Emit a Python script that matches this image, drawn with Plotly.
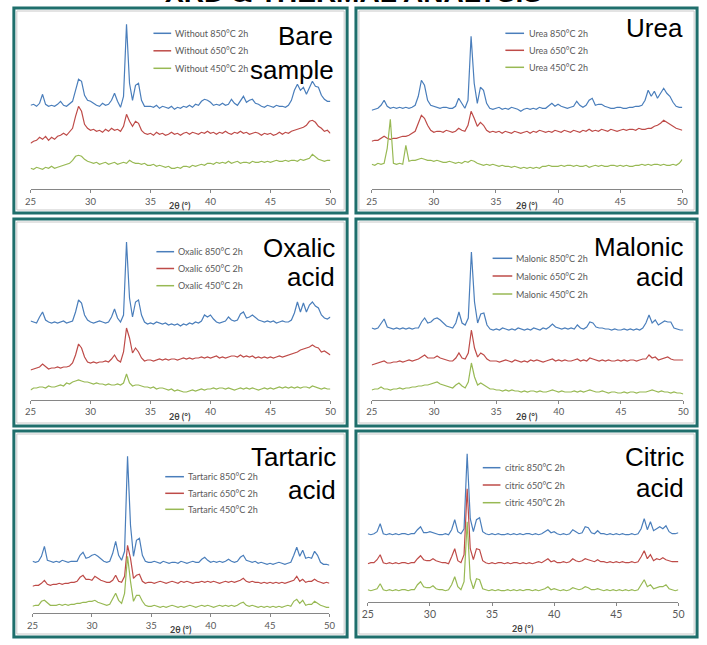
import plotly.graph_objects as go

# ---------------- DATA ----------------
two_theta = [round(25 + 0.25 * i, 2) for i in range(101)]  # scan grid 25..50 deg
tick_values = [25, 30, 35, 40, 45, 50]
tick_labels = ["25", "30", "35", "40", "45", "50"]

sample_names = ["Without", "Urea", "Oxalic", "Malonic", "Tartaric", "citric"]
panel_titles = [["Bare", "sample"], ["Urea"], ["Oxalic", "acid"],
                ["Malonic", "acid"], ["Tartaric", "acid"], ["Citric", "acid"]]
temperatures = ["850°C 2h", "650°C 2h", "450°C 2h"]
x_title = "2θ (°)"
page_title = "XRD & THERMAL ANALYSIS"

# Bare sample (Without)
without_850 = [84, 85, 83, 86, 95, 85, 83, 84, 83, 85, 88, 84, 83, 86, 88, 99,
               110, 108, 94, 89, 88, 86, 84, 83, 86, 84, 85, 89, 96, 88, 82, 93,
               165, 106, 89, 104, 106, 89, 83, 83, 83, 82, 84, 81, 83, 82, 81, 83,
               80, 82, 81, 83, 82, 84, 82, 85, 84, 88, 90, 89, 87, 84, 85, 84,
               86, 84, 85, 90, 86, 84, 89, 93, 87, 89, 90, 86, 85, 83, 82, 84,
               83, 82, 84, 83, 83, 82, 84, 89, 99, 105, 99, 102, 95, 101, 108, 103,
               102, 94, 90, 88, 88]
without_650 = [46, 48, 49, 52, 50, 53, 49, 52, 50, 53, 54, 56, 54, 57, 61, 73,
               83, 78, 65, 61, 59, 60, 58, 59, 57, 60, 58, 61, 59, 60, 58, 63,
               75, 68, 63, 68, 66, 59, 56, 55, 56, 54, 57, 55, 56, 54, 55, 57,
               55, 56, 54, 56, 57, 55, 57, 56, 55, 57, 56, 58, 56, 57, 55, 57,
               56, 58, 56, 55, 57, 56, 58, 56, 57, 55, 56, 57, 56, 54, 56, 55,
               56, 54, 55, 57, 55, 57, 56, 58, 59, 60, 61, 62, 64, 68, 69, 67,
               63, 61, 58, 59, 56]
without_450 = [21, 20, 22, 21, 20, 22, 21, 23, 21, 22, 23, 24, 25, 26, 29, 33,
               34, 33, 30, 28, 27, 26, 27, 25, 26, 27, 25, 26, 27, 25, 26, 27,
               26, 29, 27, 26, 26, 25, 26, 24, 24, 25, 23, 24, 23, 22, 23, 21,
               21, 22, 21, 23, 23, 22, 24, 23, 24, 25, 24, 26, 26, 25, 27, 26,
               27, 26, 28, 26, 27, 28, 26, 27, 27, 26, 28, 27, 27, 28, 27, 28,
               27, 28, 29, 28, 28, 29, 28, 29, 29, 28, 30, 29, 30, 31, 35, 32,
               30, 29, 28, 29, 29]

# Urea
urea_850 = [79, 80, 81, 84, 89, 83, 81, 82, 81, 82, 81, 82, 81, 82, 84, 93,
            109, 104, 89, 84, 83, 82, 81, 82, 82, 81, 81, 83, 91, 86, 81, 89,
            153, 106, 86, 102, 99, 86, 81, 80, 81, 82, 80, 81, 80, 82, 81, 80,
            78, 80, 81, 80, 81, 80, 82, 81, 81, 84, 86, 83, 85, 83, 82, 81,
            82, 83, 88, 84, 82, 84, 89, 91, 84, 85, 85, 83, 82, 81, 81, 82,
            82, 81, 81, 82, 82, 83, 83, 84, 89, 99, 93, 98, 91, 96, 101, 96,
            93, 87, 83, 82, 82]
urea_650 = [48, 49, 49, 51, 53, 51, 50, 51, 51, 52, 53, 53, 54, 56, 58, 66,
            74, 71, 64, 59, 57, 58, 58, 57, 59, 58, 57, 58, 61, 59, 58, 64,
            78, 71, 63, 67, 64, 59, 57, 58, 57, 58, 56, 58, 57, 56, 58, 57,
            56, 57, 58, 56, 58, 57, 59, 58, 57, 58, 57, 59, 58, 57, 59, 58,
            57, 59, 58, 57, 59, 58, 60, 58, 59, 58, 60, 59, 58, 60, 59, 58,
            59, 60, 59, 60, 60, 59, 61, 60, 60, 61, 61, 63, 64, 66, 69, 67,
            65, 63, 61, 60, 59]
urea_450 = [25, 24, 26, 25, 26, 41, 70, 26, 25, 26, 25, 44, 28, 29, 29, 30,
            31, 30, 29, 29, 28, 29, 28, 27, 27, 28, 27, 26, 27, 26, 28, 27,
            29, 28, 26, 25, 24, 25, 24, 25, 24, 23, 24, 23, 23, 22, 23, 22,
            21, 22, 21, 22, 21, 22, 21, 23, 23, 24, 23, 23, 23, 24, 23, 24,
            24, 23, 24, 23, 23, 24, 22, 23, 24, 23, 24, 23, 23, 24, 24, 23,
            24, 23, 24, 23, 23, 24, 24, 25, 24, 25, 24, 25, 25, 24, 25, 24,
            24, 25, 24, 26, 30]

# Oxalic acid
oxalic_850 = [79, 78, 77, 83, 88, 80, 78, 77, 78, 77, 78, 79, 77, 78, 79, 88,
              100, 97, 85, 80, 78, 77, 78, 79, 78, 77, 78, 83, 91, 82, 78, 85,
              158, 102, 83, 98, 100, 85, 78, 76, 77, 76, 78, 77, 76, 77, 75, 76,
              75, 76, 74, 76, 75, 77, 76, 78, 77, 79, 85, 83, 85, 81, 78, 77,
              78, 79, 83, 80, 79, 80, 86, 88, 82, 83, 85, 82, 80, 79, 78, 79,
              78, 79, 77, 78, 79, 78, 78, 80, 87, 98, 88, 97, 88, 95, 98, 94,
              92, 85, 82, 81, 83]
oxalic_650 = [30, 31, 32, 33, 36, 33, 31, 32, 32, 33, 32, 33, 33, 34, 37, 45,
              56, 52, 43, 38, 37, 38, 37, 38, 38, 39, 38, 41, 45, 40, 38, 48,
              72, 62, 47, 52, 48, 42, 39, 40, 40, 39, 40, 41, 40, 41, 40, 41,
              41, 40, 41, 42, 41, 42, 41, 42, 42, 43, 42, 43, 42, 43, 44, 42,
              43, 42, 43, 44, 44, 43, 45, 43, 44, 43, 44, 42, 43, 42, 43, 42,
              43, 42, 43, 44, 43, 44, 45, 46, 47, 48, 50, 51, 52, 53, 55, 53,
              52, 48, 49, 47, 45]
oxalic_450 = [10, 12, 12, 13, 13, 12, 14, 13, 13, 14, 15, 14, 17, 16, 18, 19,
              20, 19, 18, 18, 17, 16, 17, 16, 16, 15, 16, 15, 15, 16, 15, 17,
              26, 17, 14, 15, 15, 14, 13, 13, 12, 13, 11, 12, 12, 11, 10, 11,
              9, 10, 9, 8, 8, 9, 10, 9, 10, 11, 10, 11, 11, 12, 11, 12,
              12, 11, 12, 11, 10, 11, 12, 11, 12, 11, 12, 11, 10, 11, 12, 11,
              12, 11, 12, 13, 12, 13, 12, 13, 12, 13, 12, 13, 13, 12, 14, 13,
              12, 11, 12, 11, 11]

# Malonic acid
malonic_850 = [72, 71, 72, 77, 81, 73, 72, 71, 72, 71, 72, 71, 72, 71, 72, 72,
               78, 82, 77, 78, 81, 82, 80, 77, 74, 73, 72, 77, 88, 77, 75, 82,
               148, 98, 77, 86, 87, 75, 71, 70, 71, 70, 72, 71, 70, 71, 70, 72,
               71, 70, 71, 70, 72, 71, 70, 72, 71, 73, 76, 73, 72, 71, 72, 71,
               72, 71, 75, 72, 71, 73, 78, 77, 73, 72, 72, 71, 71, 70, 71, 70,
               70, 71, 70, 71, 70, 71, 70, 72, 77, 85, 77, 80, 75, 77, 79, 78,
               78, 72, 71, 70, 70]
malonic_650 = [35, 36, 37, 38, 39, 37, 37, 38, 38, 39, 38, 39, 40, 39, 40, 41,
               43, 45, 42, 42, 42, 44, 42, 41, 40, 39, 39, 42, 47, 42, 41, 47,
               70, 52, 43, 47, 45, 41, 39, 39, 39, 38, 39, 40, 39, 38, 40, 39,
               38, 39, 38, 40, 39, 40, 39, 38, 39, 40, 41, 39, 40, 39, 40, 39,
               39, 40, 41, 39, 40, 39, 42, 41, 40, 39, 40, 39, 40, 39, 39, 40,
               39, 40, 39, 40, 40, 39, 40, 41, 41, 45, 42, 43, 40, 41, 42, 43,
               41, 40, 40, 40, 40]
malonic_450 = [10, 11, 11, 13, 11, 11, 10, 11, 11, 12, 11, 12, 12, 13, 13, 14,
               14, 15, 15, 16, 17, 18, 16, 15, 14, 13, 12, 15, 17, 14, 12, 18,
               37, 23, 15, 17, 15, 13, 11, 11, 10, 10, 9, 10, 9, 10, 9, 9,
               8, 9, 8, 9, 9, 8, 9, 8, 8, 9, 10, 9, 8, 9, 8, 8,
               8, 9, 8, 9, 8, 9, 10, 9, 8, 8, 9, 8, 7, 8, 8, 7,
               7, 8, 7, 8, 8, 7, 8, 8, 8, 9, 10, 9, 8, 9, 8, 8,
               7, 8, 7, 7, 6]

# Tartaric acid
tartaric_850 = [52, 51, 52, 57, 67, 53, 52, 51, 52, 51, 53, 52, 51, 52, 52, 52,
                58, 61, 55, 56, 58, 59, 57, 54, 52, 51, 52, 60, 72, 58, 53, 62,
                157, 88, 57, 73, 75, 58, 52, 51, 51, 52, 51, 50, 52, 51, 50, 51,
                51, 50, 52, 51, 50, 51, 52, 51, 51, 54, 56, 53, 51, 52, 51, 52,
                51, 52, 54, 52, 51, 52, 56, 58, 53, 52, 51, 52, 50, 51, 50, 49,
                50, 49, 50, 51, 50, 49, 50, 51, 58, 66, 57, 63, 55, 56, 55, 62,
                58, 51, 49, 49, 48]
tartaric_650 = [27, 28, 28, 30, 33, 29, 28, 29, 29, 30, 29, 30, 30, 31, 31, 32,
                36, 38, 34, 34, 33, 37, 35, 33, 32, 31, 31, 33, 38, 32, 31, 37,
                68, 55, 35, 38, 39, 32, 30, 31, 31, 30, 31, 32, 31, 30, 31, 32,
                31, 30, 32, 31, 32, 31, 30, 31, 31, 32, 31, 32, 31, 32, 31, 30,
                31, 32, 31, 32, 31, 32, 33, 35, 32, 31, 32, 31, 31, 30, 31, 30,
                31, 30, 31, 30, 31, 30, 31, 32, 33, 37, 32, 34, 31, 32, 32, 34,
                32, 31, 30, 31, 30]
tartaric_450 = [7, 8, 8, 12, 13, 10, 8, 8, 8, 9, 8, 9, 8, 9, 9, 10,
                10, 11, 11, 12, 12, 13, 11, 10, 9, 8, 9, 15, 20, 13, 10, 20,
                57, 32, 12, 18, 18, 12, 8, 7, 7, 8, 7, 6, 7, 6, 7, 8,
                7, 6, 7, 6, 7, 8, 7, 6, 7, 8, 7, 8, 7, 6, 7, 8,
                7, 8, 7, 8, 7, 8, 10, 11, 8, 7, 8, 7, 6, 7, 6, 7,
                6, 7, 6, 7, 6, 7, 8, 7, 12, 14, 10, 13, 8, 9, 9, 12,
                10, 8, 7, 6, 6]

# Citric acid
citric_850 = [68, 67, 68, 70, 78, 68, 67, 68, 67, 68, 67, 68, 68, 67, 68, 68,
              72, 75, 69, 69, 70, 69, 68, 67, 67, 68, 67, 72, 82, 70, 68, 73,
              148, 83, 70, 82, 84, 70, 68, 67, 68, 67, 68, 67, 67, 68, 67, 68,
              67, 68, 67, 68, 68, 67, 68, 67, 68, 70, 72, 69, 70, 68, 67, 68,
              67, 68, 72, 70, 68, 69, 75, 74, 69, 68, 71, 68, 68, 67, 68, 67,
              68, 67, 68, 67, 67, 68, 67, 68, 73, 83, 72, 80, 71, 73, 75, 73,
              76, 70, 68, 68, 69]
citric_650 = [38, 39, 39, 42, 47, 39, 38, 39, 38, 39, 38, 39, 39, 38, 39, 39,
              43, 46, 42, 41, 41, 43, 41, 40, 39, 39, 38, 45, 53, 41, 39, 47,
              113, 53, 42, 53, 52, 41, 39, 38, 39, 38, 39, 39, 38, 39, 38, 39,
              39, 38, 39, 38, 39, 38, 39, 40, 39, 41, 43, 40, 41, 39, 39, 40,
              39, 40, 43, 41, 40, 41, 43, 42, 41, 40, 42, 40, 40, 39, 40, 39,
              40, 39, 40, 39, 39, 40, 39, 40, 45, 51, 43, 47, 41, 43, 42, 44,
              42, 41, 40, 40, 40]
citric_450 = [12, 11, 12, 13, 18, 12, 11, 12, 11, 12, 11, 12, 12, 11, 12, 12,
              17, 20, 15, 14, 14, 16, 13, 12, 12, 11, 12, 17, 25, 15, 12, 20,
              80, 23, 13, 23, 22, 13, 12, 11, 12, 11, 12, 11, 11, 12, 11, 12,
              11, 12, 11, 12, 12, 11, 12, 11, 12, 13, 15, 12, 13, 12, 11, 12,
              11, 12, 14, 13, 12, 13, 15, 14, 12, 12, 13, 12, 11, 12, 11, 12,
              11, 12, 11, 12, 11, 12, 11, 12, 17, 22, 15, 17, 13, 14, 15, 15,
              17, 13, 12, 11, 12]

series_by_panel = [
    (without_850, without_650, without_450),
    (urea_850, urea_650, urea_450),
    (oxalic_850, oxalic_650, oxalic_450),
    (malonic_850, malonic_650, malonic_450),
    (tartaric_850, tartaric_650, tartaric_450),
    (citric_850, citric_650, citric_450),
]

# ---------------- STYLE / GEOMETRY ----------------
W, H = 707, 645
colors = ["#4A7EBB", "#BE4B48", "#98B954"]
Y_SPAN = 175  # visible height (px) above the axis line

def fx(px):
    return px / W

def fy(py):
    return 1 - py / H

geom = [
    dict(x0=25, x1=330, ay=189.3, box=(8, 8, 347, 213),
         leg=(150, 168, 170, [33.3, 50.8, 68.3]),
         lab=[(335, 46.7), (336, 80)], tfs=9.5, ty=205.5),
    dict(x0=372, x1=688, ay=189.3, box=(356, 8, 703, 213),
         leg=(508, 527, 530, [33.3, 50.3, 67.3]),
         lab=[(691, 38.3)], tfs=9.5, ty=205.5),
    dict(x0=25, x1=330, ay=400, box=(8, 219, 347, 426),
         leg=(153, 171, 173, [251.7, 268.5, 285.7]),
         lab=[(337, 258.3), (337, 287)], tfs=9.5, ty=416.7),
    dict(x0=372, x1=689, ay=400, box=(356, 219, 703, 426),
         leg=(495, 515, 517, [258.3, 276, 294]),
         lab=[(692, 257), (692, 287)], tfs=9.5, ty=416.7),
    dict(x0=27, x1=329, ay=613.3, box=(8, 431, 347, 637),
         leg=(162, 181, 183, [476.7, 493.3, 509.3]),
         lab=[(338, 467.7), (338, 500)], tfs=9.5, ty=629),
    dict(x0=368, x1=684, ay=601.7, box=(356, 431, 703, 637),
         leg=(485, 503, 506, [467.7, 485, 502.7]),
         lab=[(692, 467.3), (692, 498.3)], tfs=10.5, ty=628),
]

fig = go.Figure()
shapes = []
annotations = []
layout_axes = {}

for p, g in enumerate(geom):
    n = p + 1
    xa = "x" if n == 1 else f"x{n}"
    ya = "y" if n == 1 else f"y{n}"
    for s, vals in enumerate(series_by_panel[p]):
        fig.add_trace(go.Scatter(
            x=two_theta, y=vals, mode="lines", xaxis=xa, yaxis=ya,
            line=dict(color=colors[s], width=1.2),
            name=f"{sample_names[p]} {temperatures[s]}", showlegend=False,
            hoverinfo="skip"))
    layout_axes["xaxis" if n == 1 else f"xaxis{n}"] = dict(
        domain=[fx(g["x0"]), fx(g["x1"])], range=[25, 50], anchor=ya,
        tickvals=tick_values, ticktext=tick_labels, showgrid=False,
        zeroline=False, showline=True, linecolor="#868686", linewidth=1,
        ticks="outside", ticklen=3, tickcolor="#868686",
        tickfont=dict(family="Lato", size=g["tfs"], color="#595959"))
    layout_axes["yaxis" if n == 1 else f"yaxis{n}"] = dict(
        domain=[fy(g["ay"]), fy(g["ay"] - Y_SPAN)], range=[0, Y_SPAN],
        anchor=xa, visible=False, showgrid=False, zeroline=False)

    l, t, r, b = g["box"]
    shapes.append(dict(type="rect", xref="paper", yref="paper",
                       x0=fx(l), x1=fx(r), y0=fy(b), y1=fy(t),
                       line=dict(color="#1F6F6C", width=3), layer="below"))
    shapes.append(dict(type="rect", xref="paper", yref="paper",
                       x0=fx(l + 3), x1=fx(r - 3), y0=fy(b - 3), y1=fy(t + 3),
                       line=dict(color="#C8C8C8", width=1), layer="below"))

    lx0, lx1, tx, rows = g["leg"]
    for s in range(3):
        shapes.append(dict(type="line", xref="paper", yref="paper",
                           x0=fx(lx0), x1=fx(lx1), y0=fy(rows[s]), y1=fy(rows[s]),
                           line=dict(color=colors[s], width=1.5)))
        annotations.append(dict(
            text=f"{sample_names[p]} {temperatures[s]}", xref="paper", yref="paper",
            x=fx(tx), y=fy(rows[s]), xanchor="left", yanchor="middle",
            showarrow=False, font=dict(family="Lato", size=9, color="#595959")))

    for k, (rx, base) in enumerate(g["lab"]):
        annotations.append(dict(
            text=panel_titles[p][k], xref="paper", yref="paper",
            x=fx(rx), y=fy(base + 6.5), xanchor="right", yanchor="bottom",
            showarrow=False,
            font=dict(family="Liberation Sans, Arial", size=26, color="#000000")))

    annotations.append(dict(
        text=f"<b>{x_title}</b>", xref=f"{xa} domain", yref="paper",
        x=0.5, y=fy(g["ty"]), xanchor="center", yanchor="middle",
        showarrow=False, font=dict(family="Lato", size=9, color="#404040")))

# page title, mostly above the visible area as in the source image
annotations.append(dict(
    text=f"<b>{page_title}</b>", xref="paper", yref="paper",
    x=fx(353), y=fy(10), xanchor="center", yanchor="bottom", showarrow=False,
    font=dict(family="Liberation Sans, Arial", size=28, color="#000000")))

fig.update_layout(
    width=W, height=H, margin=dict(l=0, r=0, t=0, b=0),
    paper_bgcolor="white", plot_bgcolor="rgba(0,0,0,0)",
    showlegend=False, shapes=shapes, annotations=annotations, **layout_axes)

fig.write_html(
    "out.html",
    config={"displayModeBar": False, "staticPlot": True},
    post_script="document.body.style.margin='0';document.body.style.overflow='hidden';")
